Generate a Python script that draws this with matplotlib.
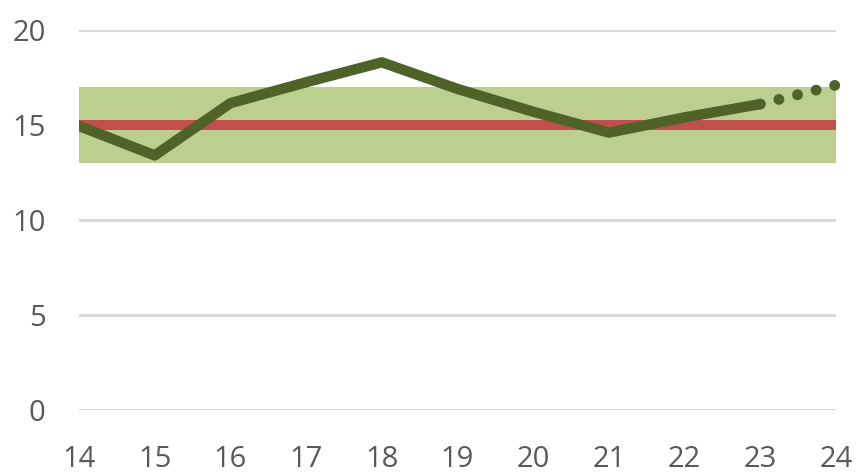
import matplotlib
matplotlib.use("Agg")
import matplotlib.pyplot as plt

# Data
x_vals = [14, 15, 16, 17, 18, 19, 20, 21, 22, 23, 24]
measured = [14.95, 13.4, 16.15, 17.25, 18.3, 16.9, 15.7, 14.6, 15.4, 16.1, 17.1]
n_actual = 10          # first 10 points are actual, last step is a forecast
target = 15
band_low, band_high = 13, 17
y_ticks = [0, 5, 10, 15, 20]

plt.rcParams['font.family'] = ['Open Sans', 'DejaVu Sans']

fig = plt.figure(figsize=(8.56, 4.72), dpi=100)
ax = fig.add_axes([0.0923, 0.1314, 0.8843, 0.805])

ax.set_xlim(x_vals[0], x_vals[-1])
ax.set_ylim(0, 20)

# Tolerance band and target line
ax.fill_between([x_vals[0], x_vals[-1]], band_low, band_high,
                color='#bccf8f', linewidth=0, zorder=2)
ax.plot([x_vals[0], x_vals[-1]], [target, target], color='#c0504d',
        linewidth=7.2, solid_capstyle='butt', zorder=3, clip_on=False)

# Measured series (solid) and forecast (dotted)
ax.plot(x_vals[:n_actual], measured[:n_actual], color='#4f6228', linewidth=7.5,
        solid_joinstyle='round', solid_capstyle='round', zorder=4, clip_on=True)
ax.plot(x_vals[n_actual - 1:], measured[n_actual - 1:], color='#4f6228',
        linewidth=7.8, linestyle=(0, (0.01, 1.76)), dash_capstyle='round',
        zorder=4, clip_on=False)

# Grid and axes styling
ax.set_yticks(y_ticks)
ax.set_xticks(x_vals)
ax.yaxis.grid(True, color='#d9d9d9', linewidth=2.2, zorder=1)
ax.set_axisbelow(True)
for s in ax.spines.values():
    s.set_visible(False)
ax.tick_params(axis='both', length=0, labelsize=21, labelcolor='#595959')
ax.tick_params(axis='y', pad=24)
ax.tick_params(axis='x', pad=25)

fig.savefig('out.png', dpi=100)
